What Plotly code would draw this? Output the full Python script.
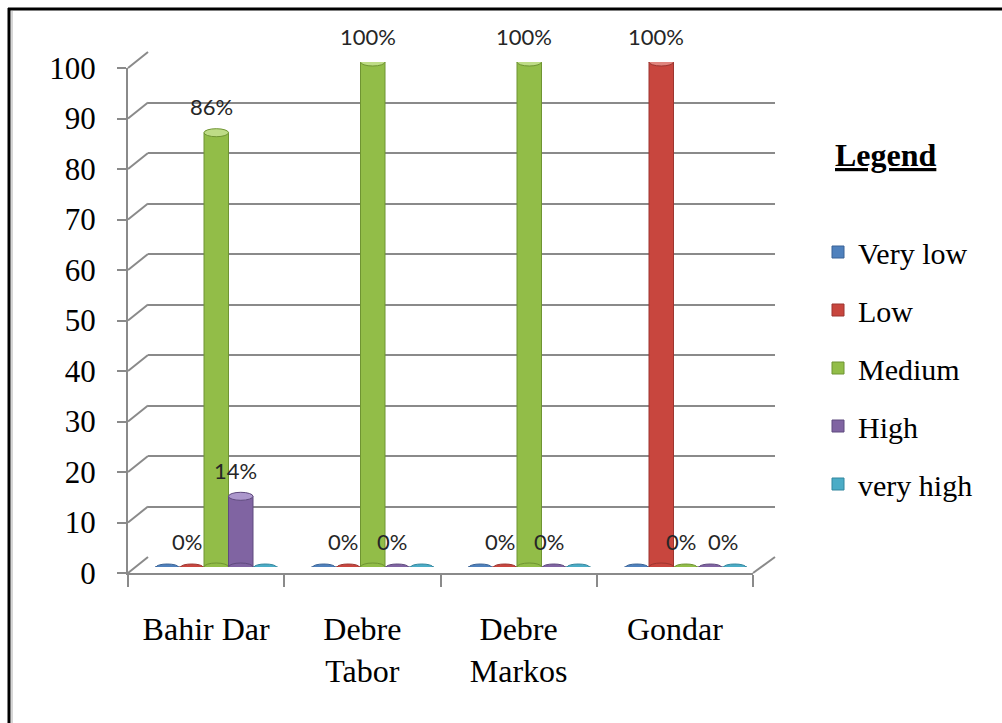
import plotly.graph_objects as go

# ---- data -------------------------------------------------------------
categories = ["Bahir Dar", "Debre Tabor", "Debre Markos", "Gondar"]
category_labels = ["Bahir Dar", "Debre<br>Tabor", "Debre<br>Markos", "Gondar"]
series_names = ["Very low", "Low", "Medium", "High", "very high"]
very_low = [0, 0, 0, 0]
low = [0, 0, 0, 100]
medium = [86, 100, 100, 0]
high = [14, 0, 0, 0]
very_high = [0, 0, 0, 0]
y_ticks = [0, 10, 20, 30, 40, 50, 60, 70, 80, 90, 100]
labelled_series = ["Low", "Medium", "High"]

series_values = [very_low, low, medium, high, very_high]

# ---- styling ----------------------------------------------------------
colors = ["#4F81BD", "#C8463E", "#92BD48", "#8064A2", "#4BACC6"]
cap_colors = ["#8FB0DA", "#E0857E", "#BEDC86", "#AC97CC", "#8BCDE0"]
edge_colors = ["#3A6396", "#9C3530", "#6F9432", "#5F4A7E", "#33869E"]
grid_color = "#8A8A8A"
serif = "Liberation Serif"

W, H = 1002, 723


def fx(p):
    return p / W


def fy(p):
    return 1 - p / H


# planes of the pseudo-3D box (pixel positions of value 0 and 100)
FRONT = dict(x0=128, x1=753, y0=573, y1=68)
BACK = dict(x0=148, x1=775, y0=557, y1=52)
MID = dict(x0=138, x1=764, y0=567, y1=62)

n_series = len(series_names)
n_cat = len(categories)
bar_px = 24.5
cat_px = (MID["x1"] - MID["x0"]) / n_cat
bargap = 1 - n_series * bar_px / cat_px
bar_w = (1 - bargap) / n_series

fig = go.Figure()

# empty traces so the front axes and the back wall get their own subplots
fig.add_trace(go.Scatter(x=[], y=[], xaxis="x", yaxis="y", showlegend=False, hoverinfo="skip"))
fig.add_trace(go.Scatter(x=[], y=[], xaxis="x2", yaxis="y2", showlegend=False, hoverinfo="skip"))

for s, name in enumerate(series_names):
    fig.add_trace(go.Bar(
        x=list(range(n_cat)),
        y=series_values[s],
        name=name,
        xaxis="x3",
        yaxis="y3",
        marker=dict(color=colors[s], line=dict(color=edge_colors[s], width=1)),
        legendgroup=name,
        hoverinfo="skip",
    ))

shapes = []

# side-wall diagonals joining the front axis to the back wall gridlines
for t in y_ticks:
    yf = FRONT["y0"] + (FRONT["y1"] - FRONT["y0"]) * t / 100
    yb = BACK["y0"] + (BACK["y1"] - BACK["y0"]) * t / 100
    shapes.append(dict(type="line", xref="paper", yref="paper",
                       x0=fx(FRONT["x0"]), y0=fy(yf), x1=fx(BACK["x0"]), y1=fy(yb),
                       line=dict(color=grid_color, width=2), layer="below"))

# right edge of the floor
shapes.append(dict(type="line", xref="paper", yref="paper",
                   x0=fx(FRONT["x1"]), y0=fy(FRONT["y0"]),
                   x1=fx(BACK["x1"]), y1=fy(BACK["y0"]),
                   line=dict(color=grid_color, width=2), layer="below"))

# cylinder caps: bottom and top ellipses for each bar
for s in range(n_series):
    for i in range(n_cat):
        v = series_values[s][i]
        xc = i + (s - (n_series - 1) / 2) * bar_w
        half = bar_w / 2
        if v > 0:
            shapes.append(dict(type="circle", xref="x3", yref="y3",
                               x0=xc - half, x1=xc + half,
                               ysizemode="pixel", yanchor=0, y0=-4, y1=4,
                               fillcolor=colors[s], line=dict(color=edge_colors[s], width=1)))
            shapes.append(dict(type="circle", xref="x3", yref="y3",
                               x0=xc - half, x1=xc + half,
                               ysizemode="pixel", yanchor=v, y0=-4, y1=4,
                               fillcolor=cap_colors[s], line=dict(color=edge_colors[s], width=1)))
        else:
            shapes.append(dict(type="circle", xref="x3", yref="y3",
                               x0=xc - half * 0.9, x1=xc + half * 0.9,
                               ysizemode="pixel", yanchor=0, y0=-3, y1=3,
                               fillcolor=colors[s], line=dict(color=edge_colors[s], width=1)))

# outer frame
shapes.append(dict(type="line", xref="paper", yref="paper",
                   x0=fx(9), y0=fy(8), x1=fx(9), y1=0,
                   line=dict(color="black", width=3)))
shapes.append(dict(type="line", xref="paper", yref="paper",
                   x0=fx(8), y0=fy(9), x1=1, y1=fy(9),
                   line=dict(color="black", width=3)))
shapes.append(dict(type="line", xref="paper", yref="paper",
                   x0=fx(12), y0=fy(11), x1=fx(12), y1=0,
                   line=dict(color="#C8C8C8", width=1.5)))

annotations = []
label_xshift = {("Gondar", "High"): 18}
for s, name in enumerate(series_names):
    if name not in labelled_series:
        continue
    for i in range(n_cat):
        v = series_values[s][i]
        xc = i + (s - (n_series - 1) / 2) * bar_w
        annotations.append(dict(
            x=xc, y=v, xref="x3", yref="y3",
            text=f"{v:.0f}%", showarrow=False,
            xshift=-5 + label_xshift.get((categories[i], name), 0), yshift=26,
            font=dict(family="Lato", size=22, color="#262626"),
        ))

annotations.append(dict(
    x=fx(886), y=fy(155), xref="paper", yref="paper",
    xanchor="center", yanchor="middle",
    text="Legend", showarrow=False,
    font=dict(family=serif, size=32, color="black", weight="bold", lineposition="under"),
))

axis_common = dict(showgrid=False, zeroline=False, automargin=False, fixedrange=True)

fig.update_layout(
    width=W, height=H,
    autosize=False,
    margin=dict(l=0, r=0, t=0, b=0, pad=0, autoexpand=False),
    paper_bgcolor="white",
    plot_bgcolor="rgba(0,0,0,0)",
    barmode="group",
    bargap=bargap,
    bargroupgap=0,
    showlegend=True,
    # front axes: value ticks and category ticks
    xaxis=dict(
        **axis_common,
        domain=[fx(FRONT["x0"]), fx(FRONT["x1"])],
        anchor="y",
        range=[-0.5, n_cat - 0.5],
        tickmode="array",
        tickvals=list(range(n_cat)),
        ticktext=category_labels,
        ticks="",
        ticklabelstandoff=27,
        tickfont=dict(family=serif, size=32, color="black"),
        showline=True, linecolor=grid_color, linewidth=2,
        minor=dict(tickmode="array",
                   tickvals=[i - 0.5 for i in range(n_cat + 1)],
                   ticks="outside", ticklen=12, tickcolor=grid_color, tickwidth=2),
    ),
    yaxis=dict(
        **axis_common,
        domain=[fy(FRONT["y0"]), fy(FRONT["y1"])],
        anchor="x",
        range=[0, 100],
        tickmode="array",
        tickvals=y_ticks,
        ticks="outside", ticklen=9, tickcolor=grid_color, tickwidth=2,
        ticklabelstandoff=15,
        tickfont=dict(family=serif, size=31, color="black"),
        showline=True, linecolor=grid_color, linewidth=2,
    ),
    # back wall with the value gridlines
    xaxis2=dict(
        **axis_common,
        domain=[fx(BACK["x0"]), fx(BACK["x1"])],
        anchor="y2",
        range=[-0.5, n_cat - 0.5],
        showticklabels=False, ticks="", showline=False,
    ),
    yaxis2=dict(
        domain=[fy(BACK["y0"]), fy(BACK["y1"])],
        anchor="x2",
        range=[0, 100],
        tickmode="array", tickvals=y_ticks,
        showgrid=True, gridcolor=grid_color, gridwidth=2,
        zeroline=False, automargin=False, fixedrange=True,
        showticklabels=False, ticks="", showline=False,
    ),
    # mid-depth plane holding the cylinders
    xaxis3=dict(
        **axis_common,
        domain=[fx(MID["x0"]), fx(MID["x1"])],
        anchor="y3",
        range=[-0.5, n_cat - 0.5],
        showticklabels=False, ticks="", showline=False,
    ),
    yaxis3=dict(
        **axis_common,
        domain=[fy(MID["y0"]), fy(MID["y1"])],
        anchor="x3",
        range=[0, 100],
        showticklabels=False, ticks="", showline=False,
    ),
    legend=dict(
        x=fx(818), y=fy(226), xanchor="left", yanchor="top",
        font=dict(family=serif, size=30, color="black"),
        traceorder="grouped", tracegroupgap=16,
        bgcolor="rgba(0,0,0,0)", itemclick=False, itemdoubleclick=False,
    ),
    shapes=shapes,
    annotations=annotations,
)

fig.write_html("out.html")
